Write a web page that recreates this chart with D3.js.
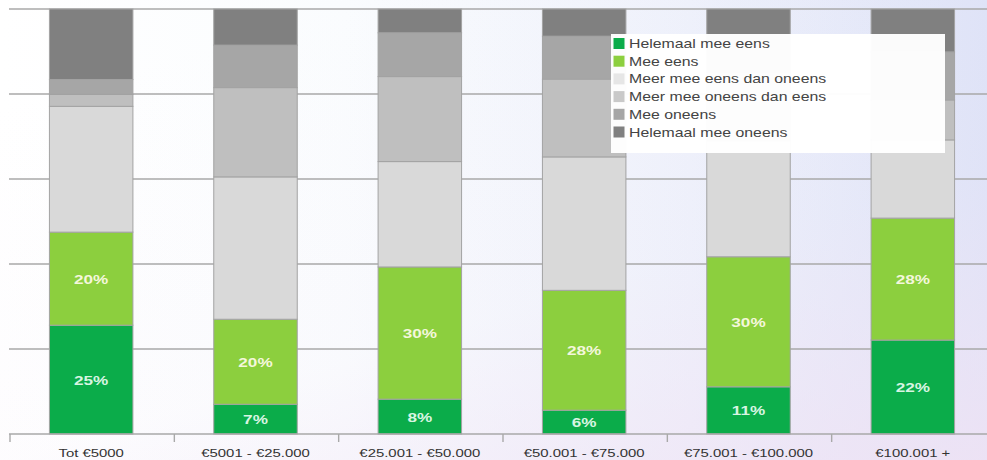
<!DOCTYPE html>
<html>
<head>
<meta charset="utf-8">
<script src="https://cdn.jsdelivr.net/npm/d3@7"></script>
<style>
  html, body { margin: 0; padding: 0; background: #fff; }
  svg { display: block; }
  text { font-family: "Liberation Sans", Arial, sans-serif; }
</style>
</head>
<body>
<svg id="chart" width="987" height="460"></svg>
<script>
// ---- data ----
const categories = ["Tot €5000", "€5001 - €25.000", "€25.001 - €50.000", "€50.001 - €75.000", "€75.001 - €100.000", "€100.001 +"];
const seriesNames = ["Helemaal mee eens", "Mee eens", "Meer mee eens dan oneens", "Meer mee oneens dan eens", "Mee oneens", "Helemaal mee oneens"];
const helemaalMeeEens   = [25.6, 7.0, 8.2, 5.6, 11.1, 22.1];
const meeEens           = [21.9, 20.0, 31.1, 28.2, 30.6, 28.7];
const meerMeeEens       = [29.6, 33.5, 24.8, 31.4, 27.3, 18.4];
const meerMeeOneens     = [2.8, 21.0, 20.0, 18.3, 16.0, 9.4];
const meeOneens         = [3.5, 10.0, 10.3, 10.1, 9.0, 11.3];
const helemaalMeeOneens = [16.6, 8.5, 5.6, 6.4, 6.0, 10.1];
const helemaalMeeEensLabels = ["25%", "7%", "8%", "6%", "11%", "22%"];
const meeEensLabels         = ["20%", "20%", "30%", "28%", "30%", "28%"];
const yTicks = [0, 20, 40, 60, 80, 100];

const seriesValues = [helemaalMeeEens, meeEens, meerMeeEens, meerMeeOneens, meeOneens, helemaalMeeOneens];
const seriesLabels = [helemaalMeeEensLabels, meeEensLabels, null, null, null, null];
const colors = ["#0bac4a", "#8ccf3e", "#d9d9d9", "#bfbfbf", "#a6a6a6", "#808080"];
const legendColors = ["#0bac4a", "#8ccf3e", "#e6e6e6", "#c9c9c9", "#a6a6a6", "#808080"];

const svg = d3.select("#chart");
const W = 987, H = 460;
const SX = 1.32; // horizontal text stretch seen in the reference

// background gradient
const defs = svg.append("defs");
const g1 = defs.append("linearGradient").attr("id", "bg1").attr("x1", 0).attr("y1", 0).attr("x2", 1).attr("y2", 0);
g1.append("stop").attr("offset", "0%").attr("stop-color", "#ffffff");
g1.append("stop").attr("offset", "35%").attr("stop-color", "#fafcfe");
g1.append("stop").attr("offset", "70%").attr("stop-color", "#eef1fb");
g1.append("stop").attr("offset", "100%").attr("stop-color", "#dee3f7");
const g2 = defs.append("linearGradient").attr("id", "bg2").attr("x1", 0.35).attr("y1", 0).attr("x2", 1).attr("y2", 1);
g2.append("stop").attr("offset", "0%").attr("stop-color", "#f0e4f6").attr("stop-opacity", 0);
g2.append("stop").attr("offset", "55%").attr("stop-color", "#f0e4f6").attr("stop-opacity", 0.1);
g2.append("stop").attr("offset", "100%").attr("stop-color", "#f0e2f4").attr("stop-opacity", 0.8);
svg.append("rect").attr("width", W).attr("height", H).attr("fill", "url(#bg1)");
svg.append("rect").attr("width", W).attr("height", H).attr("fill", "url(#bg2)");

// scales
const x = d3.scaleBand().domain(categories).range([9, 995]).paddingInner(0.492).paddingOuter(0.246);
const y = d3.scaleLinear().domain([0, 100]).range([434, 9]);

// gridlines
svg.append("g").selectAll("line").data(yTicks.filter(t => t > 0)).join("line")
  .attr("x1", 9).attr("x2", W)
  .attr("y1", d => y(d)).attr("y2", d => y(d))
  .attr("stroke", "#a9a9a9").attr("stroke-width", 1.6);

// stack
const rows = categories.map((c, i) => {
  const r = { cat: c };
  seriesNames.forEach((s, k) => r[s] = seriesValues[k][i]);
  return r;
});
const stacked = d3.stack().keys(seriesNames)(rows);

const barsG = svg.append("g");
stacked.forEach((layer, k) => {
  barsG.append("g").selectAll("rect").data(layer).join("rect")
    .attr("x", d => x(d.data.cat))
    .attr("width", x.bandwidth())
    .attr("y", d => y(d[1]))
    .attr("height", d => y(d[0]) - y(d[1]))
    .attr("fill", colors[k])
    .attr("stroke", "#a3a3a3").attr("stroke-width", 1);
});

// value labels
stacked.forEach((layer, k) => {
  if (!seriesLabels[k]) return;
  svg.append("g").selectAll("text").data(layer).join("text")
    .attr("transform", (d, i) => `translate(${x(d.data.cat) + x.bandwidth() / 2},${(y(d[0]) + y(d[1])) / 2 + 5}) scale(${SX},1)`)
    .attr("text-anchor", "middle")
    .attr("font-size", 13).attr("font-weight", "bold")
    .attr("fill", k === 0 ? "#d8f5e2" : "#f4f7dc")
    .text((d, i) => seriesLabels[k][i]);
});

// x axis line & ticks
svg.append("line").attr("x1", 9).attr("x2", W).attr("y1", y(0)).attr("y2", y(0))
  .attr("stroke", "#a9a9a9").attr("stroke-width", 1.6);
const edge = (x.step() - x.bandwidth()) / 2;
svg.append("g").selectAll("line").data(categories).join("line")
  .attr("x1", d => x(d) - edge + 1).attr("x2", d => x(d) - edge + 1)
  .attr("y1", y(0)).attr("y2", y(0) + 8)
  .attr("stroke", "#a9a9a9").attr("stroke-width", 1.4);

// category labels
svg.append("g").selectAll("text").data(categories).join("text")
  .attr("transform", d => `translate(${x(d) + x.bandwidth() / 2},457) scale(${SX},1)`)
  .attr("text-anchor", "middle")
  .attr("font-size", 11.3)
  .attr("fill", "#333")
  .text(d => d);

// legend
const lg = svg.append("g").attr("transform", "translate(611,34)");
lg.append("rect").attr("width", 334).attr("height", 119).attr("fill", "#ffffff").attr("opacity", 0.97);
seriesNames.forEach((s, k) => {
  const row = lg.append("g").attr("transform", `translate(0,${9.5 + k * 17.7})`);
  row.append("rect").attr("x", 2.5).attr("y", -5.5).attr("width", 11).attr("height", 11)
    .attr("fill", legendColors[k]);
  row.append("text").attr("transform", `translate(18,4.5) scale(${SX},1)`)
    .attr("font-size", 12).attr("fill", "#444").text(s);
});
</script>
</body>
</html>
